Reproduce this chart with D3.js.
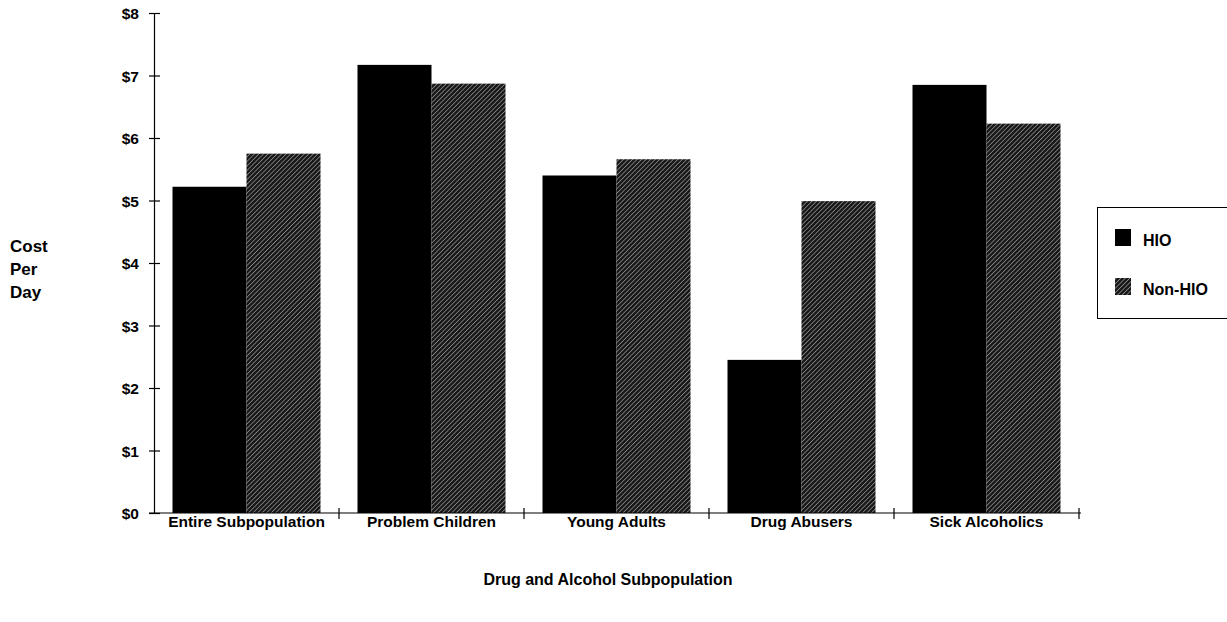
<!DOCTYPE html>
<html>
<head>
<meta charset="utf-8">
<script src="https://cdn.jsdelivr.net/npm/d3@7"></script>
<style>
  html, body { margin: 0; padding: 0; background: #fff; }
  svg { display: block; font-family: "Liberation Sans", Arial, Helvetica, sans-serif; font-weight: bold; }
</style>
</head>
<body>
<svg id="chart" width="1227" height="622"></svg>
<script>
// Cost per day by drug and alcohol subpopulation, HIO vs Non-HIO
const categories = ["Entire Subpopulation", "Problem Children", "Young Adults", "Drug Abusers", "Sick Alcoholics"];
const seriesNames = ["HIO", "Non-HIO"];
const hioValues = [5.22, 7.17, 5.40, 2.45, 6.85];
const nonHioValues = [5.75, 6.87, 5.66, 4.99, 6.23];
const yTicks = [0, 1, 2, 3, 4, 5, 6, 7, 8];

const svg = d3.select("#chart");

// Plot frame
const x0 = 154, x1 = 1079, yTop = 13, yBase = 513;

// Diagonal hatch used for the Non-HIO bars
const defs = svg.append("defs");
const pat = defs.append("pattern")
  .attr("id", "hatch")
  .attr("patternUnits", "userSpaceOnUse")
  .attr("width", 3.2).attr("height", 3.2)
  .attr("patternTransform", "rotate(45)");
pat.append("rect").attr("width", 3.2).attr("height", 3.2).attr("fill", "#181818");
pat.append("line")
  .attr("x1", 0).attr("y1", 0).attr("x2", 0).attr("y2", 3.2)
  .attr("stroke", "#e0e0e0").attr("stroke-width", 0.9);

const fills = { "HIO": "#000", "Non-HIO": "url(#hatch)" };

const x = d3.scaleBand().domain(categories).range([x0, x1])
  .paddingInner(0.2).paddingOuter(0.1);
const xs = d3.scaleBand().domain(seriesNames).range([0, x.bandwidth()]).padding(0);
const y = d3.scaleLinear().domain([0, 8]).range([yBase, yTop]);

const rows = categories.map((c, i) => ({
  cat: c,
  vals: [{ s: "HIO", v: hioValues[i] }, { s: "Non-HIO", v: nonHioValues[i] }]
}));

// Bars
const g = svg.append("g");
g.selectAll("g.grp").data(rows).join("g")
  .attr("class", "grp")
  .attr("transform", d => `translate(${x(d.cat)},0)`)
  .selectAll("rect").data(d => d.vals).join("rect")
  .attr("x", d => xs(d.s))
  .attr("y", d => y(d.v))
  .attr("width", xs.bandwidth())
  .attr("height", d => y(0) - y(d.v))
  .attr("fill", d => fills[d.s]);

// Y axis
const yAxis = svg.append("g")
  .attr("transform", `translate(${x0},0)`)
  .call(d3.axisLeft(y).tickValues(yTicks).tickFormat(d => "$" + d).tickSize(5).tickPadding(10));
yAxis.select(".domain").attr("stroke", "#000").attr("stroke-width", 1.2);
yAxis.selectAll(".tick line").attr("x1", 6).attr("x2", -5).attr("stroke-width", 1.2);
yAxis.selectAll(".tick text")
  .attr("font-size", 15.5).attr("font-family", "Liberation Sans, Arial, sans-serif")
  .attr("font-weight", "bold").attr("fill", "#000").attr("dy", "0.36em");

// X axis: baseline with crossing ticks at category boundaries
const bounds = categories.map(c => x(c) - x.step() * x.paddingInner() / 2);
bounds.push(x1);
svg.append("line")
  .attr("x1", x0 - 5).attr("x2", x1 + 2)
  .attr("y1", y(0)).attr("y2", y(0))
  .attr("stroke", "#000").attr("stroke-width", 1.2);
svg.selectAll("line.xtick").data(bounds.slice(1)).join("line")
  .attr("class", "xtick")
  .attr("x1", d => d).attr("x2", d => d)
  .attr("y1", y(0) - 5).attr("y2", y(0) + 6)
  .attr("stroke", "#000").attr("stroke-width", 1.2);

// Category labels
svg.selectAll("text.cat").data(categories).join("text")
  .attr("class", "cat")
  .attr("x", d => x(d) + x.bandwidth() / 2)
  .attr("y", 527)
  .attr("text-anchor", "middle")
  .attr("font-size", 15.5)
  .text(d => d);

// Axis titles
svg.append("text")
  .attr("x", 608).attr("y", 585)
  .attr("text-anchor", "middle")
  .attr("font-size", 16)
  .text("Drug and Alcohol Subpopulation");

const yTitle = svg.append("text").attr("font-size", 17);
["Cost", "Per", "Day"].forEach((w, i) => {
  yTitle.append("tspan").attr("x", 10).attr("y", 252 + i * 23).text(w);
});

// Legend
const leg = svg.append("g");
leg.append("rect")
  .attr("x", 1097.5).attr("y", 207.5)
  .attr("width", 140).attr("height", 111)
  .attr("fill", "#fff").attr("stroke", "#000").attr("stroke-width", 1);
seriesNames.forEach((s, i) => {
  const yy = 229 + i * 49;
  leg.append("rect")
    .attr("x", 1115).attr("y", yy)
    .attr("width", 16).attr("height", 17)
    .attr("fill", fills[s]);
  leg.append("text")
    .attr("x", 1143).attr("y", yy + 17)
    .attr("font-size", 16)
    .text(s);
});
</script>
</body>
</html>
